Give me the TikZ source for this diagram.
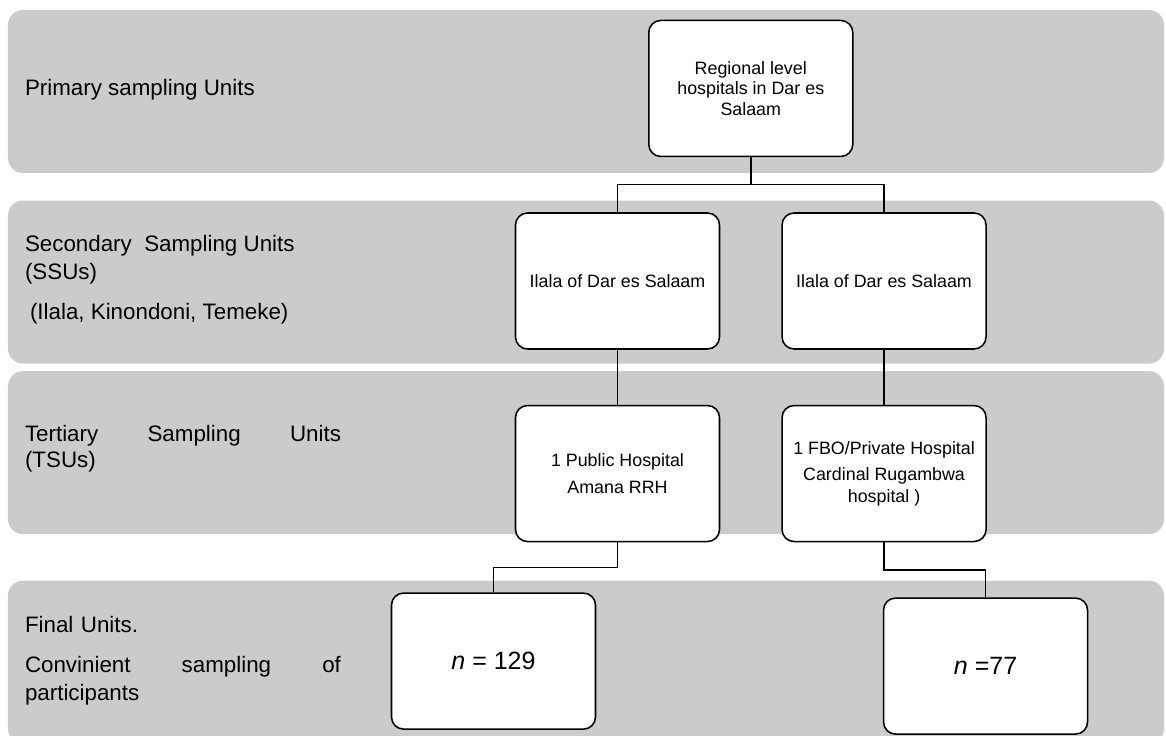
\documentclass[tikz,border=0pt]{standalone}
\usepackage{fontspec}
\setmainfont{Liberation Sans}
\usepackage{tikz}
\usetikzlibrary{positioning, calc}
\definecolor{bandgray}{RGB}{203,203,203}

\begin{document}
\begin{tikzpicture}[
    node distance=1.375cm,
    band/.style={rectangle, fill=bandgray, rounded corners=0.375cm, minimum width=28.9cm, minimum height=4.075cm, inner sep=0pt},
    bandtext/.style={anchor=west, inner sep=0pt, align=left, font=\fontsize{15.9}{20}\selectfont},
    unitbox/.style={rectangle, draw, line width=1.1pt, fill=white, rounded corners=0.3cm, minimum width=5.1cm, minimum height=3.4cm, align=center, font=\fontsize{12.7}{15}\selectfont},
    finalbox/.style={unitbox, font=\fontsize{17.8}{21}\selectfont},
    link/.style={line width=1.1pt}
]
\useasboundingbox (0,0) rectangle (29.15,-18.4);

% Bands
\node (b1) [band] at (14.65,-2.2875) {};
\node (b2) [band, below=0.675cm of b1] {};
\node (b3) [band, below=0.175cm of b2] {};
\node (b4) [band, below=1.15cm of b3] {};

% Band titles
\node (psu) [bandtext] at ($(b1.west)+(0.425,0.0375)$) {Primary sampling Units};
\node (ssu) [bandtext] at ($(b2.west)+(0.425,0.0625)$) {Secondary\ \ Sampling Units\\(SSUs)\\[8pt]\hspace*{0.125cm}(Ilala, Kinondoni, Temeke)};
\node (tsu) [bandtext, text width=7.9cm] at ($(b3.west)+(0.425,0.1)$) {Tertiary\hfill Sampling\hfill Units\\[-2pt](TSUs)};
\node (fu) [bandtext, text width=7.9cm] at ($(b4.west)+(0.425,0.0375)$) {Final Units.\\[8pt]Convinient\hfill sampling\hfill of\\participants};

% Nodes
\node (S1) [unitbox] at (15.4375,-7.025) {Ilala of Dar es Salaam};
\node (S2) [unitbox, right=1.525cm of S1] {Ilala of Dar es Salaam};
\coordinate (mid) at ($(S1.north)!0.5!(S2.north)$);
\node (R) [unitbox, above=of mid, font=\fontsize{12.7}{14.5}\selectfont] {Regional level\\hospitals in Dar es\\Salaam};
\node (T1) [unitbox, below=of S1] {1 Public Hospital\\[4pt]Amana RRH};
\node (T2) [unitbox, below=of S2] {1 FBO/Private Hospital\\[4pt]Cardinal Rugambwa\\hospital )};
\node (F1) [finalbox, below=1.25cm of T1, xshift=-3.1cm] {\textit{n} = 129};
\node (F2) [finalbox, below=of T2, xshift=2.5375cm] {\textit{n} =77};

% Paths
\coordinate (split) at ($(R.south)!0.5!(mid)$);
\draw [link] (R.south) -- (split) -| (S1.north);
\draw [link] (split) -| (S2.north);
\draw [link] (S1) -- (T1);
\draw [link] (S2) -- (T2);
\draw [link] (T1.south) |- ($(T1.south)!0.5!(F1.north)$) -| (F1.north);
\draw [link] (T2.south) |- ($(T2.south)!0.5!(F2.north)$) -| (F2.north);

\end{tikzpicture}
\end{document}
